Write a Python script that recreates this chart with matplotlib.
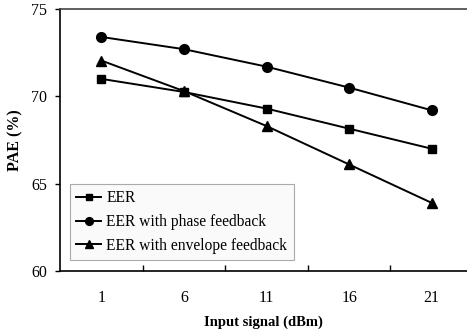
import matplotlib
matplotlib.use('Agg')
from matplotlib import pyplot as plt
from matplotlib.ticker import FixedLocator, NullFormatter

plt.rcParams['font.family'] = ['Liberation Serif', 'DejaVu Serif']

# Data
inputs = ['1', '6', '11', '16', '21']
eer = [71.0, 70.25, 69.3, 68.15, 67.0]
eer_phase = [73.4, 72.7, 71.7, 70.5, 69.2]
eer_envelope = [72.05, 70.3, 68.3, 66.1, 63.9]

fig = plt.figure(figsize=(4.67, 3.32), dpi=100)
ax = fig.add_axes([60 / 467, 61 / 332, 413 / 467, 262 / 332])

pos = list(range(len(inputs)))
ax.plot(pos, eer, '-s', color='black', lw=1.4, ms=6, label='EER')
ax.plot(pos, eer_phase, '-o', color='black', lw=1.4, ms=7, label='EER with phase feedback')
ax.plot(pos, eer_envelope, '-^', color='black', lw=1.4, ms=7, label='EER with envelope feedback')

ax.set_xlim(-0.5, len(inputs) - 0.5)
ax.set_ylim(60, 75)
ax.set_yticks([60, 65, 70, 75])
ax.set_xticks(pos)
ax.set_xticklabels(inputs)
ax.xaxis.set_minor_locator(FixedLocator([p + 0.5 for p in pos[:-1]]))
ax.xaxis.set_minor_formatter(NullFormatter())
ax.tick_params(axis='x', which='major', length=0, pad=14, labelsize=11.5)
ax.tick_params(axis='x', which='minor', direction='in', length=4, width=1)
ax.tick_params(axis='y', direction='out', length=3.5, width=1, pad=6, labelsize=11.5)

for s in ax.spines.values():
    s.set_linewidth(1.2)
ax.spines['top'].set_color('#444444')

ax.set_xlabel('Input signal (dBm)', fontweight='bold', fontsize=10.5)
ax.set_ylabel('PAE (%)', fontweight='bold', fontsize=11.5)
ax.xaxis.set_label_coords(0.492, -0.168)
ax.yaxis.set_label_coords(-0.088, 0.5)

leg = ax.legend(loc='lower left', bbox_to_anchor=(0.024, 0.042), borderaxespad=0,
                fancybox=False, edgecolor='#aaaaaa', facecolor='#fafafa', framealpha=1,
                fontsize=11.2, handlelength=1.6, handletextpad=0.35, labelspacing=0.5,
                borderpad=0.4, markerscale=0.8)
leg.get_frame().set_linewidth(0.8)

fig.savefig('out.png', dpi=100)
